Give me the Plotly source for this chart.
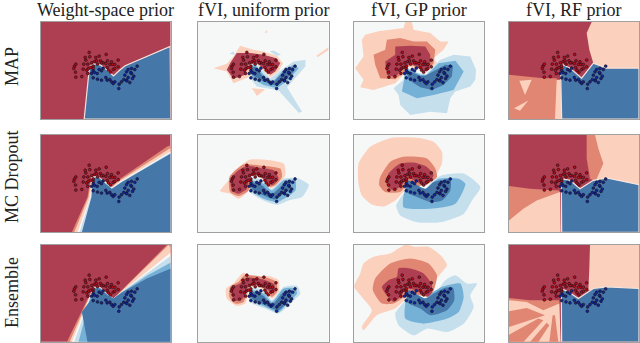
import plotly.graph_objects as go

COLUMN_TITLES = ["Weight-space prior", "fVI, uniform prior", "fVI, GP prior", "fVI, RF prior"]
ROW_TITLES = ["MAP", "MC Dropout", "Ensemble"]

# moons data, panel units with origin at the top left of a panel
red_x = [146, 197, 134, 148, 166, 176, 102, 106, 100, 105, 130, 142, 128, 144, 154, 163, 171, 158, 150, 180,
         188, 201, 213, 208, 216, 223, 233, 200, 204, 210, 218, 223, 233, 106, 124, 142, 158, 168, 183, 196,
         136, 139]
red_y = [91, 97, 106, 104, 106, 102, 132, 126, 139, 150, 126, 126, 141, 139, 122, 118, 126, 139, 136, 116,
         122, 116, 119, 127, 127, 127, 114, 136, 144, 150, 142, 139, 134, 165, 163, 154, 132, 116, 122, 124,
         114, 144]
blue_x = [158, 153, 162, 176, 183, 188, 170, 158, 171, 183, 196, 200, 208, 213, 218, 223, 235, 236, 243, 250,
          258, 268, 263, 253, 258, 263, 273, 283, 290, 273, 280, 276, 271, 259]
blue_y = [146, 154, 151, 142, 146, 138, 154, 167, 171, 174, 166, 174, 172, 179, 184, 179, 199, 186, 179, 172,
          174, 181, 166, 159, 149, 142, 139, 142, 132, 154, 162, 169, 151, 176]

# confidence bins: 3 is strong red, -3 is strong blue
LEVEL_COLORS = {3: "#ae3f52", 2: "#e08672", 1: "#fbd0bc", 0: "#f6f8f8", -1: "#c5dfed", -2: "#75b1d6", -3: "#4677a9"}

# each panel: (background bin, [(bin, outline), ...])
map_weight = (3, [
    (-3, [(252, 357), (265, 240), (268, 200), (280, 192), (300, 195), (320, 210), (340, 228), (360, 210), (375, 198),
          (510, 140), (512, 357)]),
])
map_uniform = (0, [
    (1, [(720, 138), (760, 150), (790, 155), (830, 168), (848, 190), (835, 215), (810, 232), (790, 215), (765, 190),
         (750, 195), (745, 232), (700, 250), (680, 215), (640, 205), (680, 192), (700, 170)]),
    (3, [(690, 190), (710, 160), (750, 160), (790, 165), (825, 175), (840, 190), (825, 215), (810, 225), (790, 205),
         (770, 190), (745, 195), (735, 225), (700, 237), (680, 210)]),
    (1, [(792, 100), (800, 92), (802, 98)]),
    (1, [(948, 168), (985, 142), (985, 150), (952, 172)]),
    (1, [(755, 265), (795, 268), (770, 288)]),
    (-1, [(750, 195), (765, 190), (790, 215), (810, 235), (850, 205), (880, 185), (915, 180), (915, 200), (880, 240),
          (860, 262), (905, 335), (895, 338), (835, 272), (770, 260), (750, 235)]),
    (-1, [(808, 155), (820, 152), (842, 165), (830, 168)]),
    (-1, [(688, 162), (700, 155), (705, 165)]),
    (-2, [(752, 200), (765, 195), (790, 225), (815, 248), (850, 210), (880, 195), (895, 205), (865, 240), (830, 265),
          (790, 255), (755, 235)]),
    (-3, [(752, 205), (765, 200), (790, 232), (815, 252), (850, 215), (880, 200), (880, 215), (860, 235), (830, 258),
          (790, 245), (755, 225)]),
])
map_gp = (0, [
    (1, [(225, 67), (245, 67), (250, 90), (300, 100), (330, 125), (355, 125), (340, 150), (310, 175), (320, 190),
         (290, 215), (235, 200), (220, 225), (195, 250), (130, 270), (90, 262), (100, 240), (75, 205), (100, 170),
         (95, 120), (105, 105), (145, 95), (220, 85)]),
    (2, [(170, 120), (210, 115), (250, 125), (290, 125), (315, 150), (310, 190), (290, 215), (240, 195), (220, 220),
         (195, 238), (150, 235), (135, 195), (130, 165), (165, 150)]),
    (3, [(195, 140), (240, 138), (285, 140), (300, 165), (300, 195), (285, 215), (240, 190), (220, 205), (195, 232),
         (170, 225), (165, 185), (195, 165)]),
    (-1, [(330, 180), (370, 165), (420, 170), (437, 210), (435, 240), (420, 260), (375, 275), (360, 295), (350, 340),
          (300, 335), (240, 345), (210, 315), (205, 285), (190, 265), (220, 240), (225, 200), (250, 215), (285, 225)]),
    (-2, [(325, 190), (375, 183), (400, 215), (370, 270), (310, 285), (260, 295), (215, 275), (220, 245), (228, 205),
          (270, 225), (290, 225)]),
    (-3, [(345, 195), (368, 198), (365, 230), (340, 255), (305, 270), (270, 262), (235, 240), (228, 210), (270, 228),
          (285, 228)]),
])
map_rf = (3, [
    (1, [(785, 67), (927, 67), (927, 205), (830, 205), (790, 190), (778, 150), (770, 100)]),
    (2, [(537, 225), (640, 235), (680, 235), (690, 357), (537, 357)]),
    (1, [(680, 240), (692, 240), (695, 357), (675, 357)]),
    (1, [(568, 243), (605, 240), (585, 285)]),
    (1, [(552, 325), (595, 302), (570, 332)]),
    (-3, [(692, 220), (700, 195), (720, 205), (755, 235), (790, 190), (830, 205), (927, 205), (927, 357), (695, 357)]),
])

dropout_weight = (3, [
    (2, [(215, 320), (262, 215), (272, 155), (290, 150), (320, 170), (335, 183), (360, 160), (500, 65), (512, 60),
         (512, 320)]),
    (1, [(222, 320), (265, 215), (274, 155), (290, 152), (320, 172), (335, 185), (360, 165), (505, 72), (512, 68),
         (512, 320)]),
    (0, [(232, 320), (270, 215), (276, 155), (292, 153), (320, 175), (335, 187), (362, 168), (512, 78), (512, 320)]),
    (-1, [(238, 320), (272, 215), (277, 157), (293, 155), (320, 177), (335, 189), (364, 169), (512, 82), (512, 320)]),
    (-3, [(245, 320), (274, 215), (278, 158), (295, 156), (320, 178), (335, 190), (365, 170), (512, 85), (512, 320)]),
])
dropout_uniform = (0, [
    (1, [(750, 103), (850, 115), (855, 150), (835, 175), (810, 188), (790, 165), (765, 150), (750, 155), (745, 195),
         (715, 220), (690, 205), (660, 197), (690, 160), (700, 140)]),
    (2, [(730, 118), (790, 122), (840, 130), (845, 155), (825, 180), (810, 185), (790, 162), (765, 150), (750, 155),
         (745, 195), (715, 212), (690, 200), (688, 155)]),
    (3, [(740, 122), (780, 128), (820, 135), (835, 160), (815, 180), (790, 160), (765, 148), (748, 155), (740, 190),
         (715, 205), (695, 195), (692, 160), (715, 135)]),
    (-1, [(748, 160), (765, 155), (790, 170), (812, 190), (850, 160), (890, 158), (925, 178), (905, 215), (865, 225),
          (830, 238), (790, 225), (750, 200)]),
    (-2, [(748, 165), (790, 175), (815, 195), (850, 165), (885, 165), (885, 195), (860, 215), (830, 230), (790, 220),
          (752, 195)]),
    (-3, [(750, 170), (785, 180), (815, 205), (850, 175), (870, 170), (870, 190), (850, 205), (825, 222), (790, 210),
          (755, 190)]),
])
dropout_gp = (0, [
    (1, [(85, 115), (120, 65), (185, 38), (260, 38), (310, 50), (335, 80), (335, 115), (315, 150), (280, 165),
         (225, 195), (195, 225), (160, 243), (125, 237), (95, 210), (85, 175)]),
    (2, [(150, 155), (180, 110), (220, 95), (290, 100), (315, 130), (320, 155), (285, 180), (225, 185), (210, 200),
         (165, 200), (147, 180)]),
    (3, [(175, 145), (210, 115), (250, 112), (290, 125), (310, 150), (285, 180), (240, 160), (225, 165), (215, 180),
         (190, 195), (170, 180)]),
    (-1, [(335, 150), (400, 145), (450, 185), (425, 225), (400, 265), (330, 290), (260, 290), (210, 270), (198, 240),
          (225, 200), (240, 195), (285, 190), (310, 165)]),
    (-2, [(325, 160), (385, 160), (405, 175), (375, 235), (300, 250), (220, 245), (220, 210), (232, 180), (285, 195),
          (305, 175)]),
    (-3, [(335, 165), (360, 160), (360, 195), (335, 225), (300, 230), (260, 215), (228, 200), (230, 165), (285, 190),
          (310, 170)]),
])
dropout_rf = (3, [
    (2, [(770, 29), (927, 29), (927, 180), (800, 170), (780, 160), (770, 100)]),
    (1, [(795, 29), (927, 29), (927, 180), (830, 165), (800, 160), (820, 115), (805, 70)]),
    (2, [(537, 182), (600, 190), (688, 195), (690, 320), (537, 320)]),
    (1, [(537, 285), (580, 250), (620, 225), (690, 200), (692, 320), (537, 320)]),
    (-3, [(694, 160), (720, 165), (750, 190), (790, 165), (830, 158), (927, 178), (927, 320), (695, 320)]),
])

ensemble_weight = (3, [
    (2, [(200, 320), (262, 190), (280, 155), (300, 155), (320, 175), (340, 190), (360, 170), (500, 30), (512, 30),
         (512, 320)]),
    (1, [(208, 320), (264, 190), (280, 156), (300, 156), (320, 176), (340, 190), (360, 171), (505, 30), (512, 38),
         (512, 320)]),
    (0, [(215, 320), (268, 190), (280, 157), (300, 157), (321, 177), (340, 190), (362, 172), (512, 52), (512, 320)]),
    (-1, [(222, 320), (272, 185), (280, 158), (300, 158), (322, 178), (340, 190), (362, 172), (440, 115), (512, 62),
          (512, 320)]),
    (-2, [(235, 320), (268, 195), (280, 159), (300, 159), (322, 179), (340, 190), (364, 172), (440, 122), (512, 82),
          (512, 320)]),
    (-3, [(262, 320), (245, 230), (275, 190), (280, 160), (300, 160), (322, 180), (340, 190), (365, 172), (440, 130),
          (512, 100), (512, 320)]),
])
ensemble_uniform = (0, [
    (1, [(730, 112), (750, 128), (800, 122), (835, 135), (835, 170), (815, 190), (790, 165), (765, 155), (748, 160),
         (735, 205), (710, 212), (680, 190), (678, 160), (700, 145)]),
    (2, [(733, 120), (800, 128), (828, 140), (830, 170), (815, 185), (790, 160), (765, 150), (748, 155), (730, 200),
         (705, 205), (688, 185), (690, 155), (715, 140)]),
    (3, [(738, 128), (795, 135), (822, 148), (820, 175), (790, 155), (765, 148), (745, 152), (728, 190), (705, 197),
         (695, 180), (697, 155), (720, 145)]),
    (-1, [(750, 160), (768, 158), (795, 172), (815, 195), (850, 155), (890, 152), (900, 175), (870, 205), (835, 235),
          (800, 222), (750, 200)]),
    (-2, [(750, 165), (790, 175), (815, 200), (850, 160), (885, 160), (890, 175), (865, 200), (835, 230), (795, 215),
          (750, 195)]),
    (-3, [(752, 170), (790, 182), (815, 208), (850, 170), (875, 165), (870, 190), (835, 225), (795, 210), (755, 190)]),
])
ensemble_gp = (0, [
    (1, [(225, 29), (255, 35), (295, 35), (330, 60), (350, 90), (320, 130), (305, 170), (230, 190), (195, 220),
         (140, 240), (100, 285), (95, 275), (125, 225), (95, 185), (72, 155), (90, 115), (100, 85), (130, 65),
         (180, 55)]),
    (2, [(180, 85), (240, 70), (295, 85), (320, 120), (315, 150), (300, 185), (240, 175), (215, 190), (190, 205),
         (155, 205), (128, 165), (135, 130)]),
    (3, [(205, 100), (240, 100), (280, 115), (305, 150), (300, 185), (240, 160), (222, 165), (215, 180), (190, 200),
         (165, 175), (155, 155), (175, 135), (200, 125)]),
    (-1, [(345, 135), (375, 120), (410, 145), (440, 145), (420, 180), (430, 215), (400, 265), (350, 290), (290, 280),
          (250, 300), (205, 270), (195, 235), (225, 195), (240, 170), (285, 190), (315, 175)]),
    (-2, [(335, 155), (390, 145), (400, 185), (385, 230), (350, 250), (280, 265), (225, 250), (228, 190), (240, 170),
          (285, 190), (310, 170)]),
    (-3, [(345, 158), (368, 158), (372, 195), (350, 225), (300, 240), (270, 220), (230, 200), (235, 165), (285, 190),
          (310, 175)]),
])
ensemble_rf = (3, [
    (1, [(780, 29), (927, 29), (927, 165), (830, 160), (800, 165), (775, 165), (778, 100)]),
    (2, [(537, 188), (600, 195), (688, 195), (690, 320), (537, 320)]),
    (1, [(537, 195), (590, 200), (640, 225), (688, 205), (692, 320), (537, 320)]),
    (2, [(537, 228), (590, 218), (645, 240), (537, 275)]),
    (2, [(537, 298), (625, 250), (640, 255), (580, 320), (537, 320)]),
    (2, [(600, 320), (650, 262), (658, 270), (625, 320)]),
    (2, [(668, 240), (675, 240), (685, 320), (658, 320)]),
    (-3, [(694, 160), (715, 170), (745, 190), (790, 160), (830, 155), (927, 160), (927, 320), (695, 320)]),
])

PANELS = [
    [map_weight, map_uniform, map_gp, map_rf],
    [dropout_weight, dropout_uniform, dropout_gp, dropout_rf],
    [ensemble_weight, ensemble_uniform, ensemble_gp, ensemble_rf],
]

WIDTH, HEIGHT = 640, 343
COL_PX = [(40.5, 170.5), (198, 328.5), (353.5, 483.7), (509, 639)]
ROW_PX = [(22, 119), (134.7, 232), (244.7, 341.7)]
ROW_LABEL_Y = [67, 177, 293]
COL_ORIGIN = [121, 594, 70, 537]
ROW_ORIGIN = [67, 29, 29]
FONT = "Liberation Serif"
FRAME = dict(showticklabels=False, ticks="", showgrid=False, zeroline=False,
             showline=True, mirror=True, linecolor="#a0a0a0", linewidth=1.2)

fig = go.Figure()
n = 0
for r, row in enumerate(PANELS):
    for c, (background, regions) in enumerate(row):
        n += 1
        tag = "" if n == 1 else str(n)
        ox, oy = COL_ORIGIN[c], ROW_ORIGIN[r]
        fig.update_layout(**{
            f"xaxis{tag}": dict(domain=[COL_PX[c][0] / WIDTH, COL_PX[c][1] / WIDTH], range=[ox, ox + 390],
                                anchor=f"y{tag}", **FRAME),
            f"yaxis{tag}": dict(domain=[1 - ROW_PX[r][1] / HEIGHT, 1 - ROW_PX[r][0] / HEIGHT], range=[oy + 290, oy],
                                anchor=f"x{tag}", **FRAME),
        })
        fig.add_shape(type="rect", xref=f"x{tag} domain", yref=f"y{tag} domain", x0=0, x1=1, y0=0, y1=1,
                      fillcolor=LEVEL_COLORS[background], line_width=0, layer="below")
        # contours of the dropout and ensemble fVI panels are round, the rest are straight edged
        rounded = r > 0 and c in (1, 2)
        for level, outline in regions:
            xs = [p[0] for p in outline] + [outline[0][0]]
            ys = [p[1] for p in outline] + [outline[0][1]]
            edged = level == -3 and (c == 3 or (r, c) == (0, 0))
            fig.add_trace(go.Scatter(
                x=xs, y=ys, mode="lines", fill="toself", fillcolor=LEVEL_COLORS[level],
                line=dict(color="#f5e4dc" if edged else LEVEL_COLORS[level], width=1.2 if edged else 0,
                          shape="spline" if rounded else "linear", smoothing=0.6),
                xaxis=f"x{tag}", yaxis=f"y{tag}", hoverinfo="skip", showlegend=False,
            ))
        for px, py, colour in ((red_x, red_y, "#b80c1c"), (blue_x, blue_y, "#1226a0")):
            fig.add_trace(go.Scatter(
                x=[v + ox for v in px], y=[v + oy for v in py], mode="markers",
                marker=dict(size=2.8, color=colour, line=dict(color="#181018", width=0.6)),
                xaxis=f"x{tag}", yaxis=f"y{tag}", hoverinfo="skip", showlegend=False,
            ))

for c, title in enumerate(COLUMN_TITLES):
    fig.add_annotation(text=title, x=sum(COL_PX[c]) / 2 / WIDTH, y=1 - 10 / HEIGHT, xref="paper", yref="paper",
                       showarrow=False, xanchor="center", yanchor="middle",
                       font=dict(family=FONT, size=18, color="#222"))
for r, title in enumerate(ROW_TITLES):
    fig.add_annotation(text=title, x=12 / WIDTH, y=1 - ROW_LABEL_Y[r] / HEIGHT, xref="paper", yref="paper",
                       showarrow=False, textangle=-90, xanchor="center", yanchor="middle",
                       font=dict(family=FONT, size=18, color="#222"))

fig.update_layout(width=WIDTH, height=HEIGHT, margin=dict(l=0, r=0, t=0, b=0), paper_bgcolor="white",
                  plot_bgcolor="white")
fig.write_html("out.html", config={"displayModeBar": False}, post_script="document.body.style.margin='0';")
